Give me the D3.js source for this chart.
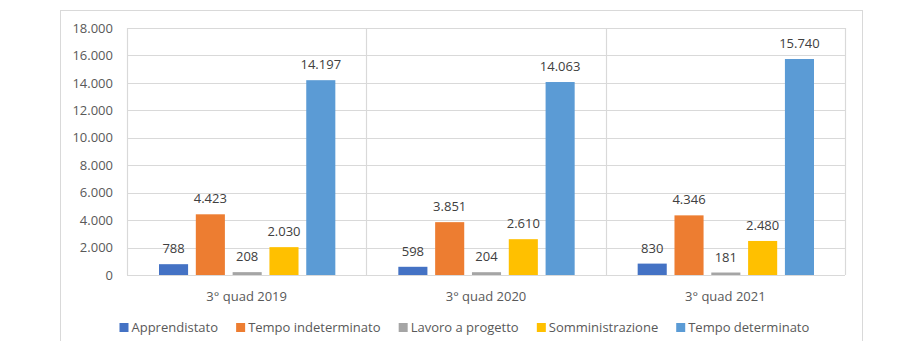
<!DOCTYPE html>
<html>
<head>
<meta charset="utf-8">
<script src="https://cdn.jsdelivr.net/npm/d3@7"></script>
<style>
  html, body { margin: 0; padding: 0; background: #fff; }
  svg { display: block; font-family: "Open Sans", "Noto Sans", sans-serif; }
</style>
</head>
<body>
<svg id="chart" width="901" height="341"></svg>
<script>
// Periods on the x axis
const categories = ["3° quad 2019", "3° quad 2020", "3° quad 2021"];
// Contract types (series)
const seriesNames = ["Apprendistato", "Tempo indeterminato", "Lavoro a progetto", "Somministrazione", "Tempo determinato"];
const seriesColors = ["#4472C4", "#ED7D31", "#A5A5A5", "#FFC000", "#5B9BD5"];
// Values per series, one per period
const apprendistato = [788, 598, 830];
const tempoIndeterminato = [4423, 3851, 4346];
const lavoroProgetto = [208, 204, 181];
const somministrazione = [2030, 2610, 2480];
const tempoDeterminato = [14197, 14063, 15740];
const yTicks = [0, 2000, 4000, 6000, 8000, 10000, 12000, 14000, 16000, 18000];

const seriesValues = [apprendistato, tempoIndeterminato, lavoroProgetto, somministrazione, tempoDeterminato];
const fmt = d3.formatLocale({ decimal: ",", thousands: ".", grouping: [3], currency: ["", "€"] }).format(",d");

const svg = d3.select("#chart");
const margin = { left: 127, right: 56, top: 28, bottom: 66 };
const W = 901, H = 341;
const x0 = d3.scaleBand().domain(categories).range([margin.left, W - margin.right]);
const x1 = d3.scaleBand().domain(seriesNames).range([32, x0.bandwidth() - 31]).paddingInner(0.21);
const y = d3.scaleLinear().domain([0, 18000]).range([H - margin.bottom, margin.top]);

// Outer chart frame
svg.append("rect")
  .attr("x", 60.5).attr("y", 10.5).attr("width", 802).attr("height", 400)
  .attr("fill", "none").attr("stroke", "#d9d9d9").attr("stroke-width", 1);

// Horizontal gridlines
svg.append("g").selectAll("line").data(yTicks).join("line")
  .attr("x1", margin.left).attr("x2", W - margin.right)
  .attr("y1", d => Math.round(y(d)) + 0.5).attr("y2", d => Math.round(y(d)) + 0.5)
  .attr("stroke", "#d9d9d9").attr("stroke-width", 1.2);

// Vertical category separators
const seps = categories.map(c => x0(c)).concat([x0.range()[1]]);
svg.append("g").selectAll("line").data(seps).join("line")
  .attr("x1", d => Math.round(d) + 0.5).attr("x2", d => Math.round(d) + 0.5)
  .attr("y1", y(18000)).attr("y2", y(0))
  .attr("stroke", "#d9d9d9").attr("stroke-width", 1.2);

// Y axis tick labels
const yAxis = d3.axisLeft(y).tickValues(yTicks).tickFormat(fmt).tickSize(0).tickPadding(14);
const yg = svg.append("g").attr("transform", `translate(${margin.left},0)`).call(yAxis);
yg.select(".domain").remove();
yg.selectAll("text").attr("fill", "#595959").style("font-size", "13px").style("font-family", "\"Open Sans\", sans-serif");

// Bars
const groups = svg.append("g").selectAll("g").data(categories).join("g")
  .attr("transform", c => `translate(${x0(c)},0)`);
groups.each(function (c, ci) {
  const g = d3.select(this);
  const rows = seriesNames.map((s, si) => ({ s, si, v: seriesValues[si][ci] }));
  g.selectAll("rect").data(rows).join("rect")
    .attr("x", d => x1(d.s)).attr("width", x1.bandwidth())
    .attr("y", d => y(d.v)).attr("height", d => y(0) - y(d.v))
    .attr("fill", d => seriesColors[d.si]);
  g.selectAll("text").data(rows).join("text")
    .attr("x", d => x1(d.s) + x1.bandwidth() / 2)
    .attr("y", d => y(d.v) - 11)
    .attr("text-anchor", "middle")
    .attr("fill", "#404040").style("font-size", "13px")
    .text(d => fmt(d.v));
});

// Category labels
svg.append("g").selectAll("text").data(categories).join("text")
  .attr("x", c => x0(c) + x0.bandwidth() / 2)
  .attr("y", 301)
  .attr("text-anchor", "middle")
  .attr("fill", "#595959").style("font-size", "13px")
  .text(c => c);

// Legend, centred under the chart
const legend = svg.append("g");
const items = legend.selectAll("g").data(seriesNames).join("g");
items.append("rect").attr("width", 9).attr("height", 9).attr("y", -9)
  .attr("fill", (d, i) => seriesColors[i]);
items.append("text").attr("x", 12).attr("y", 0)
  .attr("fill", "#595959").style("font-size", "13px").text(d => d);
let cx = 0;
items.each(function () {
  const w = this.getBBox().width;
  d3.select(this).attr("transform", `translate(${cx},0)`);
  cx += w + 18;
});
const total = cx - 18;
legend.attr("transform", `translate(${464.5 - total / 2},332)`);
</script>
</body>
</html>
